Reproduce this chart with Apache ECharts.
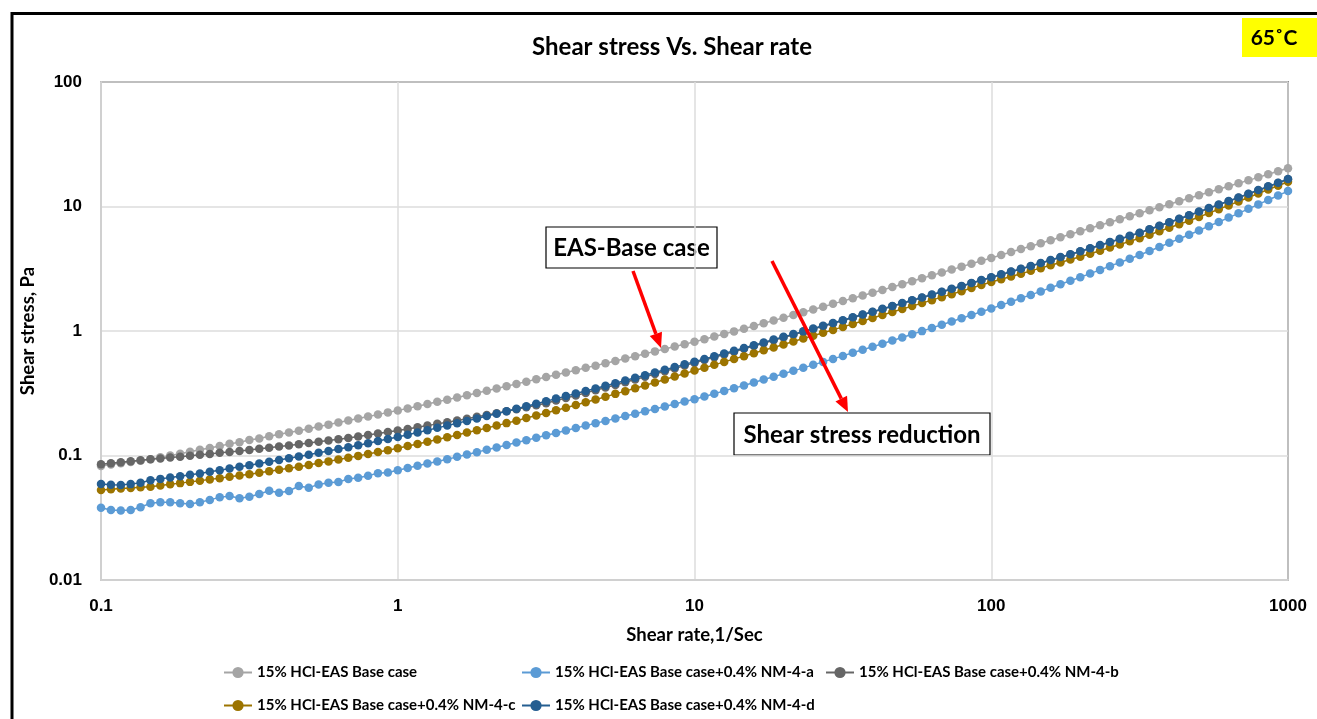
<!DOCTYPE html>
<html>
<head>
<meta charset="utf-8">
<title>Shear stress Vs. Shear rate</title>
<script src="https://cdn.jsdelivr.net/npm/echarts@6/dist/echarts.min.js"></script>
<style>
  html, body { margin: 0; padding: 0; background: #fff; }
  #chart { width: 1317px; height: 719px; }
</style>
</head>
<body>
<div id="chart"></div>
<script>
// Shear rate (1/s), 30 log-spaced steps per decade
const shearRate = [
  0.1, 0.108, 0.1166, 0.1259, 0.1359, 0.1468, 0.1585, 0.1711, 0.1848, 0.1995,
  0.2154, 0.2326, 0.2512, 0.2712, 0.2929, 0.3162, 0.3415, 0.3687, 0.3981, 0.4299,
  0.4642, 0.5012, 0.5412, 0.5843, 0.631, 0.6813, 0.7356, 0.7943, 0.8577, 0.9261,
  1, 1.08, 1.166, 1.259, 1.359, 1.468, 1.585, 1.711, 1.848, 1.995,
  2.154, 2.326, 2.512, 2.712, 2.929, 3.162, 3.415, 3.687, 3.981, 4.299,
  4.642, 5.012, 5.412, 5.843, 6.31, 6.813, 7.356, 7.943, 8.577, 9.261,
  10, 10.8, 11.66, 12.59, 13.59, 14.68, 15.85, 17.11, 18.48, 19.95,
  21.54, 23.26, 25.12, 27.12, 29.29, 31.62, 34.15, 36.87, 39.81, 42.99,
  46.42, 50.12, 54.12, 58.43, 63.1, 68.13, 73.56, 79.43, 85.77, 92.61,
  100, 108, 116.6, 125.9, 135.9, 146.8, 158.5, 171.1, 184.8, 199.5,
  215.4, 232.6, 251.2, 271.2, 292.9, 316.2, 341.5, 368.7, 398.1, 429.9,
  464.2, 501.2, 541.2, 584.3, 631, 681.3, 735.6, 794.3, 857.7, 926.1,
  1000
];

// Shear stress (Pa) for each fluid
const baseCase = [
  0.0824, 0.0845, 0.0867, 0.0887, 0.0909, 0.0933, 0.0966, 0.100, 0.1035, 0.107,
  0.111, 0.115, 0.119, 0.124, 0.128, 0.133, 0.137, 0.143, 0.148, 0.153,
  0.158, 0.164, 0.171, 0.177, 0.184, 0.191, 0.198, 0.206, 0.213, 0.222,
  0.230, 0.239, 0.249, 0.259, 0.270, 0.281, 0.292, 0.305, 0.318, 0.331,
  0.345, 0.360, 0.376, 0.392, 0.409, 0.427, 0.445, 0.465, 0.484, 0.506,
  0.527, 0.551, 0.575, 0.601, 0.628, 0.656, 0.686, 0.716, 0.750, 0.783,
  0.819, 0.859, 0.902, 0.946, 0.993, 1.042, 1.096, 1.153, 1.213, 1.276,
  1.343, 1.413, 1.489, 1.567, 1.652, 1.738, 1.832, 1.928, 2.032, 2.138,
  2.254, 2.377, 2.512, 2.649, 2.799, 2.951, 3.112, 3.289, 3.467, 3.664,
  3.864, 4.083, 4.305, 4.550, 4.797, 5.070, 5.358, 5.662, 5.984, 6.324,
  6.683, 7.063, 7.464, 7.907, 8.356, 8.831, 9.333, 9.863, 10.42, 11.02,
  11.64, 12.30, 13.00, 13.74, 14.52, 15.35, 16.22, 17.14, 18.16, 19.19,
  20.28
];

const nm4a = [
  0.0381, 0.0365, 0.0361, 0.0365, 0.0384, 0.0413, 0.0421, 0.0421, 0.0413, 0.0407,
  0.0421, 0.0440, 0.0461, 0.0473, 0.0453, 0.0467, 0.0491, 0.0521, 0.0502, 0.0519,
  0.0569, 0.0551, 0.0586, 0.0604, 0.0612, 0.0647, 0.0664, 0.0689, 0.0719, 0.0729,
  0.0762, 0.0794, 0.0826, 0.0861, 0.0895, 0.0933, 0.0975, 0.1019, 0.1064, 0.1112,
  0.1161, 0.1213, 0.1271, 0.1327, 0.1390, 0.1452, 0.1517, 0.1589, 0.1660, 0.1738,
  0.1816, 0.1897, 0.1986, 0.2075, 0.2168, 0.2265, 0.2366, 0.2477, 0.2588, 0.2710,
  0.2831, 0.2979, 0.3133, 0.3304, 0.3475, 0.3656, 0.3855, 0.4074, 0.4295, 0.4539,
  0.4786, 0.5058, 0.5346, 0.5649, 0.5970, 0.6310, 0.6683, 0.7063, 0.7482, 0.7907,
  0.8375, 0.8872, 0.9419, 0.9977, 1.059, 1.122, 1.191, 1.265, 1.343, 1.426,
  1.514, 1.614, 1.718, 1.832, 1.950, 2.080, 2.223, 2.371, 2.535, 2.704,
  2.891, 3.097, 3.319, 3.548, 3.802, 4.074, 4.395, 4.732, 5.105, 5.508,
  5.929, 6.412, 6.950, 7.516, 8.147, 8.810, 9.572, 10.40, 11.27, 12.25,
  13.30
];

const nm4b = [
  0.0849, 0.0865, 0.0881, 0.0899, 0.0916, 0.0933, 0.0948, 0.0964, 0.0979, 0.0995,
  0.1012, 0.1030, 0.1050, 0.1069, 0.1089, 0.1109, 0.1132, 0.1156, 0.1180, 0.1205,
  0.1230, 0.1259, 0.1288, 0.1318, 0.1349, 0.1380, 0.1419, 0.1459, 0.1500, 0.1542,
  0.1585, 0.1633, 0.1687, 0.1738, 0.1795, 0.1849, 0.1914, 0.1977, 0.2046, 0.2113,
  0.2188, 0.2270, 0.2355, 0.2443, 0.2535, 0.2630, 0.2761, 0.2897, 0.3034, 0.3184,
  0.3342, 0.3516, 0.3690, 0.3882, 0.4074, 0.4285, 0.4508, 0.4753, 0.5000, 0.5272,
  0.5546, 0.5848, 0.6152, 0.6486, 0.6823, 0.7194, 0.7586, 0.7980, 0.8414, 0.8851,
  0.9333, 0.9840, 1.035, 1.091, 1.148, 1.211, 1.279, 1.349, 1.419, 1.496,
  1.578, 1.663, 1.754, 1.849, 1.950, 2.056, 2.168, 2.286, 2.415, 2.547,
  2.685, 2.831, 2.985, 3.141, 3.311, 3.491, 3.690, 3.899, 4.111, 4.345,
  4.592, 4.864, 5.152, 5.458, 5.781, 6.124, 6.531, 6.966, 7.430, 7.925,
  8.453, 9.036, 9.638, 10.30, 10.99, 11.75, 12.59, 13.46, 14.42, 15.42,
  16.52
];

const nm4c = [
  0.0528, 0.0535, 0.0542, 0.0548, 0.0556, 0.0562, 0.0574, 0.0587, 0.0600, 0.0614,
  0.0627, 0.0643, 0.0658, 0.0675, 0.0690, 0.0708, 0.0728, 0.0748, 0.0769, 0.0791,
  0.0813, 0.0839, 0.0869, 0.0897, 0.0929, 0.0959, 0.0993, 0.1028, 0.1067, 0.1104,
  0.1143, 0.1191, 0.1239, 0.1291, 0.1343, 0.1400, 0.1462, 0.1528, 0.1592, 0.1663,
  0.1738, 0.1820, 0.1905, 0.2000, 0.2094, 0.2193, 0.2307, 0.2421, 0.2547, 0.2673,
  0.2812, 0.2965, 0.3126, 0.3289, 0.3467, 0.3656, 0.3864, 0.4083, 0.4305, 0.4550,
  0.4808, 0.5070, 0.5346, 0.5649, 0.5957, 0.6281, 0.6622, 0.6998, 0.7379, 0.7798,
  0.8222, 0.8690, 0.9162, 0.9683, 1.021, 1.079, 1.140, 1.205, 1.271, 1.343,
  1.419, 1.500, 1.585, 1.675, 1.770, 1.871, 1.977, 2.089, 2.213, 2.339,
  2.472, 2.600, 2.742, 2.884, 3.041, 3.199, 3.373, 3.556, 3.750, 3.954,
  4.169, 4.416, 4.677, 4.955, 5.248, 5.559, 5.929, 6.324, 6.745, 7.194,
  7.674, 8.241, 8.851, 9.506, 10.21, 10.96, 11.80, 12.71, 13.68, 14.69,
  15.81
];

const nm4d = [
  0.0590, 0.0582, 0.0579, 0.0589, 0.0605, 0.0632, 0.0649, 0.0665, 0.0682, 0.0700,
  0.0718, 0.0740, 0.0762, 0.0787, 0.0811, 0.0836, 0.0863, 0.0891, 0.0920, 0.0951,
  0.0982, 0.1016, 0.1052, 0.1089, 0.1127, 0.1167, 0.1211, 0.1256, 0.1306, 0.1355,
  0.1406, 0.1466, 0.1531, 0.1596, 0.1667, 0.1738, 0.1816, 0.1897, 0.1986, 0.2075,
  0.2168, 0.2270, 0.2377, 0.2489, 0.2606, 0.2729, 0.2864, 0.2999, 0.3148, 0.3296,
  0.3459, 0.3631, 0.3811, 0.4009, 0.4207, 0.4416, 0.4645, 0.4887, 0.5129, 0.5395,
  0.5675, 0.5970, 0.6281, 0.6607, 0.6950, 0.7311, 0.7691, 0.8091, 0.8531, 0.8974,
  0.9441, 0.9931, 1.047, 1.102, 1.161, 1.222, 1.288, 1.358, 1.429, 1.507,
  1.589, 1.675, 1.766, 1.862, 1.963, 2.070, 2.183, 2.301, 2.432, 2.564,
  2.704, 2.851, 3.006, 3.162, 3.334, 3.516, 3.715, 3.926, 4.140, 4.375,
  4.624, 4.898, 5.188, 5.495, 5.821, 6.166, 6.577, 7.015, 7.482, 7.980,
  8.511, 9.099, 9.705, 10.38, 11.07, 11.83, 12.68, 13.55, 14.52, 15.52,
  16.63
];

const seriesNames = [
  '15% HCl-EAS Base case',
  '15% HCl-EAS Base case+0.4% NM-4-a',
  '15% HCl-EAS Base case+0.4% NM-4-b',
  '15% HCl-EAS Base case+0.4% NM-4-c',
  '15% HCl-EAS Base case+0.4% NM-4-d'
];
const seriesValues = [baseCase, nm4a, nm4b, nm4c, nm4d];
const seriesColors = ['#A5A5A5', '#5B9BD5', '#666666', '#9C7400', '#255E91'];

const xTickLabels = ['0.1', '1', '10', '100', '1000'];
const yTickLabels = ['0.01', '0.1', '1', '10', '100'];

const humanist = "Lato, 'Open Sans', 'Liberation Sans', sans-serif";
const sans = "'Liberation Sans', Arial, sans-serif";

function tickText(list, v) {
  const hit = list.find(t => Math.abs(parseFloat(t) - v) / v < 1e-6);
  return hit !== undefined ? hit : '';
}

const chart = echarts.init(document.getElementById('chart'), null, { renderer: 'canvas' });

const legendSlots = [
  { left: 218, top: 660 }, { left: 516, top: 660 }, { left: 820, top: 660 },
  { left: 218, top: 693 }, { left: 516, top: 693 }
];

// Red arrow from (x1,y1) to the tip (x2,y2)
function arrow(x1, y1, x2, y2) {
  const dx = x2 - x1, dy = y2 - y1, len = Math.hypot(dx, dy);
  const ux = dx / len, uy = dy / len;
  const head = 15, half = 6.5;
  const bx = x2 - ux * head, by = y2 - uy * head;
  const px = -uy * half, py = ux * half;
  return [
    { type: 'line', z: 50, shape: { x1: x1, y1: y1, x2: bx, y2: by },
      style: { stroke: '#FF0000', lineWidth: 3.5 } },
    { type: 'polygon', z: 50, shape: { points: [[x2, y2], [bx + px, by + py], [bx - px, by - py]] },
      style: { fill: '#FF0000' } }
  ];
}

function labelBox(x, y, w, h, text) {
  return {
    type: 'group', z: 40,
    children: [
      { type: 'rect', shape: { x: x, y: y, width: w, height: h },
        style: { fill: '#fff', stroke: '#000', lineWidth: 1.2 } },
      { type: 'text', style: { x: x + w / 2, y: y + h / 2 + 1, text: text, align: 'center', verticalAlign: 'middle',
        font: 'bold 24px ' + humanist, fill: '#000' } }
    ]
  };
}

const option = {
  animation: false,
  backgroundColor: '#ffffff',
  title: {
    text: 'Shear stress Vs. Shear rate',
    left: 667, top: 30, textAlign: 'center',
    textStyle: { fontFamily: humanist, fontWeight: 'bold', fontSize: 24, color: '#000' }
  },
  grid: {
    left: 101, top: 82, width: 1187, height: 498,
    show: true, borderColor: '#3a3a3a', borderWidth: 1.5, backgroundColor: 'transparent'
  },
  legend: legendSlots.map((p, i) => ({
    left: p.left, top: p.top, data: [seriesNames[i]],
    itemWidth: 28, itemHeight: 14, itemGap: 4,
    textStyle: { fontFamily: humanist, fontWeight: 'bold', fontSize: 15, color: '#000' }
  })),
  xAxis: {
    type: 'log', logBase: 10, min: 0.1, max: 1000,
    name: 'Shear rate,1/Sec', nameLocation: 'middle', nameGap: 46,
    nameTextStyle: { fontFamily: humanist, fontWeight: 'bold', fontSize: 18.5, color: '#000' },
    axisLine: { show: true, lineStyle: { color: '#D0D0D0', width: 2 } },
    axisTick: { show: false },
    splitLine: { show: true, lineStyle: { color: '#DCDCDC', width: 1.5 } },
    axisLabel: { margin: 18, fontFamily: sans, fontWeight: 'bold', fontSize: 17, color: '#000',
      formatter: v => tickText(xTickLabels, v) }
  },
  yAxis: {
    type: 'log', logBase: 10, min: 0.01, max: 100,
    name: 'Shear stress, Pa', nameLocation: 'middle', nameGap: 63, nameRotate: 90,
    nameTextStyle: { fontFamily: humanist, fontWeight: 'bold', fontSize: 18.5, color: '#000' },
    axisLine: { show: true, lineStyle: { color: '#D0D0D0', width: 2 } },
    axisTick: { show: false },
    splitLine: { show: true, lineStyle: { color: '#DCDCDC', width: 1.5 } },
    axisLabel: { margin: 19, fontFamily: sans, fontWeight: 'bold', fontSize: 17, color: '#000',
      formatter: v => tickText(yTickLabels, v) }
  },
  series: seriesNames.map((name, s) => ({
    name: name,
    type: 'line',
    data: shearRate.map((x, i) => [x, seriesValues[s][i]]),
    symbol: 'circle', symbolSize: 8.5, showSymbol: true,
    color: seriesColors[s],
    lineStyle: { width: 1.5, color: seriesColors[s] },
    itemStyle: { color: seriesColors[s] },
    z: 3 + s
  })),
  graphic: [
    // outer frame
    { type: 'rect', z: 60, shape: { x: 12, y: 13.5, width: 1400, height: 800 },
      style: { fill: null, stroke: '#000', lineWidth: 3 } },
    // temperature tag
    { type: 'rect', z: 61, shape: { x: 1242, y: 18, width: 80, height: 39 }, style: { fill: '#FFFF00' } },
    { type: 'text', z: 62, style: { x: 1274, y: 38, text: '65˚C', align: 'center', verticalAlign: 'middle',
      font: 'bold 21px ' + humanist, fill: '#000' } },
    labelBox(546, 227, 171, 41, 'EAS-Base case'),
    labelBox(734, 413, 256, 42, 'Shear stress reduction'),
    ...arrow(633, 271, 661, 348),
    ...arrow(772, 261, 848, 412)
  ]
};

chart.setOption(option);
</script>
</body>
</html>
